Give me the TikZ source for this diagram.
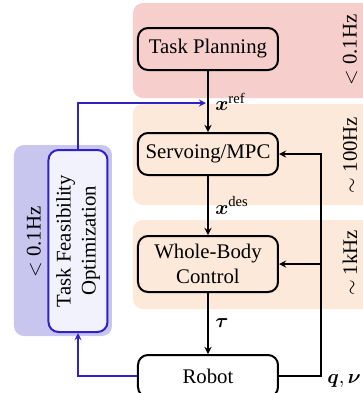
\documentclass[tikz,border=0pt]{standalone}
\usepackage{amsmath}
\usepackage{amssymb}
\usepackage{fontspec}
\setmainfont{Liberation Serif}
\usepackage{tikz}
\usetikzlibrary{arrows}

\definecolor{planred}{RGB}{246,206,204}
\definecolor{rateorange}{RGB}{252,233,217}
\definecolor{feaspurple}{RGB}{200,197,238}
\definecolor{feasblue}{RGB}{48,32,200}
\definecolor{feasfill}{RGB}{242,242,252}

\begin{document}
\begin{tikzpicture}[
	x=0.5pt, y=-0.5pt,
	>=stealth,
	auto,
	semithick,
	font=\fontsize{10.4}{12.5}\selectfont,
	block/.style={draw, rounded corners=5pt, line width=1pt, minimum width=70pt, minimum height=21pt, align=center},
	band/.style={rounded corners=5pt},
	rate/.style={rotate=90}
	]
	\useasboundingbox (0,0) rectangle (363,393);

	% frequency bands
	\fill[band, planred] (133,3) rectangle (380,98);
	\fill[band, rateorange] (133,104) rectangle (380,205);
	\fill[band, rateorange] (133,220) rectangle (380,309);
	\fill[band, feaspurple] (14,145) rectangle (112,336);

	\node[block] (plan) at (208,49) {Task Planning};
	\node[block] (servo) at (208,154) {Servoing/MPC};
	\node[block, minimum height=28pt] (wbc) at (208,264) {Whole-Body\\Control};
	\node[block] (robot) at (208,376) {Robot};
	\node[block, draw=feasblue, fill=feasfill, rotate=90, minimum width=91pt, minimum height=29.5pt] (tfo) at (78,241) {Task Feasibility\\Optimization};

	\node[rate] (planrate) at (350,50) {$<$ 0.1Hz};
	\node[rate] (servorate) at (350,155) {$\sim$ 100Hz};
	\node[rate] (wbcrate) at (350,263) {$\sim$ 1kHz};
	\node[rate] (feasrate) at (34,242) {$<$ 0.1Hz};

	\path[->]
		(plan) edge node {$\boldsymbol{x}^{\mathrm{ref}}$} (servo)
		(servo) edge node {$\boldsymbol{x}^{\mathrm{des}}$} (wbc)
		(wbc) edge node {$\boldsymbol{\tau}$} (robot);

	% state feedback
	\coordinate (fb) at (321,0);
	\coordinate (refin) at (206,103);
	\draw[->] (robot.east) -| (fb |- servo.east) -- (servo.east);
	\draw[->] (fb |- wbc.east) -- (wbc.east);
	\node (state) at (344,381) {$\boldsymbol{q},\boldsymbol{\nu}$};

	% feasibility loop
	\draw[feasblue, ->] (tfo.east) |- (refin);
	\draw[feasblue, ->] (robot.west) -| (tfo.west);
\end{tikzpicture}
\end{document}
